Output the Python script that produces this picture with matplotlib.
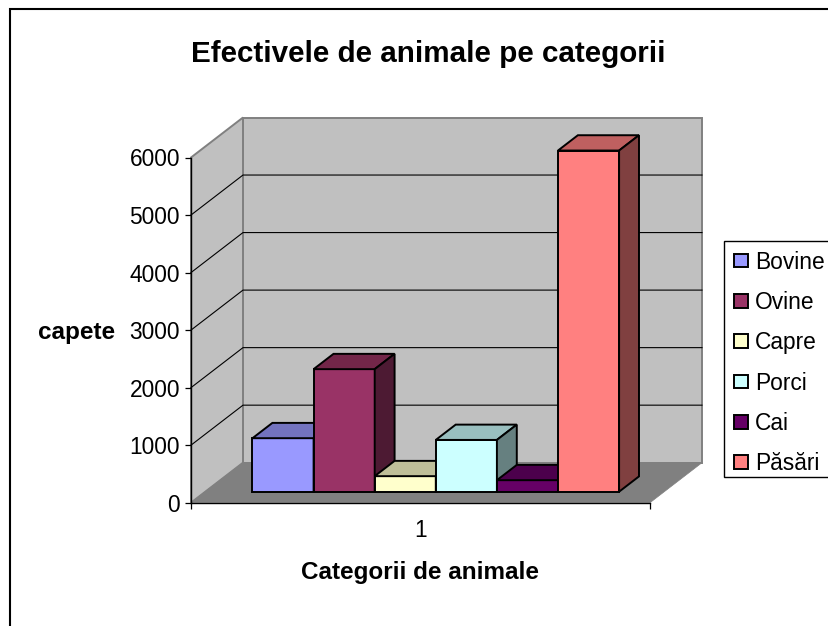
import matplotlib
matplotlib.use('Agg')
import matplotlib.pyplot as plt
from matplotlib.patches import Polygon, Rectangle

plt.rcParams['font.family'] = ['Liberation Sans', 'DejaVu Sans']

series = ['Bovine', 'Ovine', 'Capre', 'Porci', 'Cai', 'Păsări']
values = [930, 2130, 270, 900, 200, 5930]
colors = ['#9999FF', '#993366', '#FFFFCC', '#CCFFFF', '#660066', '#FF8080']
top_colors = ['#7373BF', '#732649', '#BFBF99', '#99BFBF', '#4C004C', '#BF6060']
side_colors = ['#4D4D80', '#4D1A33', '#808066', '#668080', '#330033', '#804040']
yticks = [0, 1000, 2000, 3000, 4000, 5000, 6000]

W, H = 829, 626
# oblique depth of the floor, in data units
DX = 52 / 459
DY = 40 / (345.2 / 6000)
BAR_W = 61.1 / 459
BAR_SHIFT = 1.0 / 459
BAR_D0 = 0.275
BAR_D1 = 0.6575


def p(x, y, d):
    return (x + d * DX, y + d * DY)


fig = plt.figure(figsize=(W / 100, H / 100), dpi=100)
ax = fig.add_axes([191 / W, 1 - 502.7 / H, 459 / W, 345.2 / H])
ax.set_facecolor('none')
ax.set_xlim(0.5, 1.5)
ax.set_ylim(0, 6000)

# frame of the chart area, runs out of the picture on the right and bottom
fig.add_artist(Rectangle((10 / W, -0.1), 1.1, 1.1 - 8.5 / H, transform=fig.transFigure,
                         fill=False, edgecolor='black', linewidth=1.5))

# walls and floor
x0, x1 = 0.5, 1.5
ymax = yticks[-1]
ax.add_patch(Polygon([p(x0, 0, 1), p(x1, 0, 1), p(x1, ymax, 1), p(x0, ymax, 1)], closed=True,
                     facecolor='#C0C0C0', edgecolor='#808080', linewidth=1.4, zorder=0.5, clip_on=False))
ax.add_patch(Polygon([p(x0, 0, 0), p(x0, 0, 1), p(x0, ymax, 1), p(x0, ymax, 0)], closed=True,
                     facecolor='#C0C0C0', edgecolor='#808080', linewidth=1.4, zorder=0.5, clip_on=False))
ax.add_patch(Polygon([p(x0, 0, 0), p(x1, 0, 0), p(x1, 0, 1), p(x0, 0, 1)], closed=True,
                     facecolor='#808080', edgecolor='#808080', linewidth=0.5, zorder=0.6, clip_on=False))

for t in yticks[1:-1]:
    a, b, c = p(x0, t, 0), p(x0, t, 1), p(x1, t, 1)
    ax.plot([a[0], b[0], c[0]], [a[1], b[1], c[1]], color='black', linewidth=0.8, zorder=0.7, clip_on=False)

# bars, left to right so each one covers the side of the previous one
for i, v in enumerate(values):
    left = 1 + (i - 3) * BAR_W + BAR_SHIFT
    right = left + BAR_W
    z = 3 + i
    ax.bar(left + BAR_D0 * DX, v, BAR_W, bottom=BAR_D0 * DY, align='edge', color=colors[i],
           edgecolor='black', linewidth=1.4, zorder=z, clip_on=False, label=series[i])
    ax.add_patch(Polygon([p(left, v, BAR_D0), p(right, v, BAR_D0), p(right, v, BAR_D1), p(left, v, BAR_D1)],
                         closed=True, facecolor=top_colors[i], edgecolor='black', linewidth=1.4,
                         zorder=z, clip_on=False))
    ax.add_patch(Polygon([p(right, 0, BAR_D0), p(right, 0, BAR_D1), p(right, v, BAR_D1), p(right, v, BAR_D0)],
                         closed=True, facecolor=side_colors[i], edgecolor='black', linewidth=1.4,
                         zorder=z, clip_on=False))

for s in ['top', 'right']:
    ax.spines[s].set_visible(False)
for s in ['left', 'bottom']:
    ax.spines[s].set_linewidth(1.0)

ax.set_yticks(yticks)
ax.tick_params(axis='y', labelsize=16.4, length=4.5, width=0.9, pad=3.5)
ax.set_xticks([1])
ax.set_xticklabels(['1'])
ax.set_xticks([0.5, 1.5], minor=True)
ax.tick_params(axis='x', which='major', labelsize=16.4, length=0, pad=12)
ax.tick_params(axis='x', which='minor', length=4.5, width=0.9)

ax.set_xlabel('Categorii de animale', fontsize=17.5, fontweight='bold')
ax.xaxis.set_label_coords((420 - 191) / 459, (502.7 - 572) / 345.2)
ax.set_ylabel('capete', fontsize=17.5, fontweight='bold', rotation=0, ha='center', va='center')
ax.yaxis.set_label_coords((77 - 191) / 459, (502.7 - 333) / 345.2)
ax.xaxis.label.set_va('center')

fig.text(428 / W, 1 - 54.5 / H, 'Efectivele de animale pe categorii', fontsize=21.3, fontweight='bold',
         ha='center', va='center')

# legend box drawn apart, it also runs out of the picture on the right
fig.add_artist(Rectangle((724.5 / W, 1 - 477 / H), 0.2, 236 / H, transform=fig.transFigure,
                         facecolor='white', edgecolor='black', linewidth=1.0, zorder=10))
leg = ax.legend(loc='upper left', bbox_to_anchor=(724.5 / W, 1 - 241 / H), bbox_transform=fig.transFigure,
                fontsize=16.4, frameon=False, borderaxespad=0,
                borderpad=0.42, labelspacing=0.76, handlelength=0.62, handleheight=0.55, handletextpad=0.3)
leg.set_zorder(20)
ax.set_zorder(11)

fig.savefig('out.png', dpi=100)
